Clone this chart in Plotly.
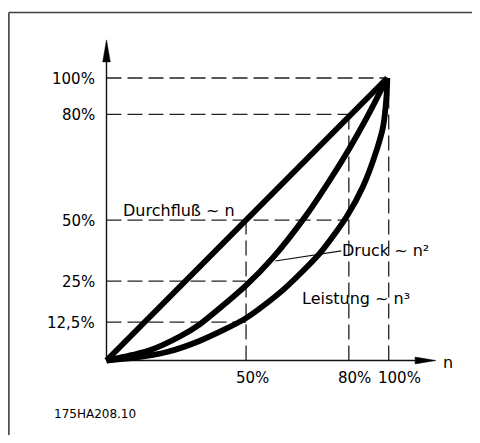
import plotly.graph_objects as go

# ---- data (schematic drawing units, 0..100 on both axes) ----
flow_x = [0, 100]
flow_y = [0, 100]

pressure_x = [0, 9.4, 15.4, 26.1, 33.2, 49.6, 59.2, 71.2, 79.5, 86.3, 92.6, 97.3, 100]
pressure_y = [0, 2.0, 3.6, 8.5, 12.8, 26.5, 36.3, 51.5, 63.8, 74.7, 85.8, 94.8, 100]

power_x = [0, 9.4, 21.5, 33.3, 49.7, 62.9, 76.1, 85.5, 91.3, 96.2, 98.5, 99.8, 100]
power_y = [0, 0.9, 3.0, 7.0, 15.0, 25.0, 38.1, 50.9, 61.5, 74.5, 82.8, 94.7, 100]

x_tick_pos = [49.7, 86.3, 100.5]
x_tick_text = ["50%", "80%", "100%"]
y_tick_pos = [13.6, 28.1, 49.7, 87.1, 100]
y_tick_text = ["12,5%", "25%", "50%", "80%", "100%"]
# horizontal guide ends at this x, vertical guide ends at this y
h_guide_end = [49.7, 49.7, 86.3, 86.3, 100]
v_guide_end = [49.7, 87.1, 100]

curve_labels = ["Durchfluß ~ n", "Druck ~ n²", "Leistung ~ n³"]
drawing_code = "175HA208.10"

# ---- axis geometry (drawing units; page body adds an 8px offset) ----
W, H = 464, 427
PX_X, PX_Y = 2.808, 2.825
X_MIN = -35.08
X_MAX = X_MIN + W / PX_X
Y_MAX = 124.78
Y_MIN = Y_MAX - H / PX_Y
Y_ARROW_TIP, Y_ARROW_LEN, Y_ARROW_HALF = 113.5, 7.8, 1.35
X_ARROW_TIP, X_ARROW_LEN, X_ARROW_HALF = 117.3, 7.4, 1.2

FONT = "DejaVu Sans"
fig = go.Figure()

DASH = "15px,6px"
for yv, xe in zip(y_tick_pos, h_guide_end):
    fig.add_trace(go.Scatter(x=[0, xe], y=[yv, yv], mode="lines",
                             line=dict(color="#222", width=1.3, dash=DASH),
                             hoverinfo="skip", showlegend=False))
for xv, ye in zip(x_tick_pos, v_guide_end):
    fig.add_trace(go.Scatter(x=[xv, xv], y=[0, ye], mode="lines",
                             line=dict(color="#222", width=1.3, dash=DASH),
                             hoverinfo="skip", showlegend=False))

# axes
fig.add_trace(go.Scatter(x=[0, 0], y=[0, Y_ARROW_TIP - Y_ARROW_LEN], mode="lines",
                         line=dict(color="#111", width=1.4), showlegend=False, hoverinfo="skip"))
fig.add_trace(go.Scatter(x=[0, X_ARROW_TIP - X_ARROW_LEN], y=[0, 0], mode="lines",
                         line=dict(color="#111", width=1.4), showlegend=False, hoverinfo="skip"))
fig.add_trace(go.Scatter(x=[-Y_ARROW_HALF, 0, Y_ARROW_HALF, -Y_ARROW_HALF],
                         y=[Y_ARROW_TIP - Y_ARROW_LEN, Y_ARROW_TIP, Y_ARROW_TIP - Y_ARROW_LEN, Y_ARROW_TIP - Y_ARROW_LEN],
                         mode="lines", fill="toself", fillcolor="#000",
                         line=dict(color="#000", width=0.5), showlegend=False, hoverinfo="skip"))
fig.add_trace(go.Scatter(x=[X_ARROW_TIP - X_ARROW_LEN, X_ARROW_TIP, X_ARROW_TIP - X_ARROW_LEN, X_ARROW_TIP - X_ARROW_LEN],
                         y=[-X_ARROW_HALF, 0, X_ARROW_HALF, -X_ARROW_HALF],
                         mode="lines", fill="toself", fillcolor="#000",
                         line=dict(color="#000", width=0.5), showlegend=False, hoverinfo="skip"))

# leader line for pressure label
fig.add_trace(go.Scatter(x=[60.1, 83.6], y=[35.2, 38.8], mode="lines",
                         line=dict(color="#111", width=1.1), showlegend=False, hoverinfo="skip"))

# curves
for xs, ys in [(flow_x, flow_y), (pressure_x, pressure_y), (power_x, power_y)]:
    fig.add_trace(go.Scatter(x=xs, y=ys, mode="lines",
                             line=dict(color="#000", width=5.8, shape="spline", smoothing=0.7),
                             showlegend=False, hoverinfo="skip"))

ann = []
for yv, t in zip(y_tick_pos, y_tick_text):
    ann.append(dict(x=0, y=yv, text=t, xanchor="right", yanchor="middle", xshift=-10, yshift=-1,
                    showarrow=False, font=dict(family=FONT, size=15, color="#000")))
for xv, t in zip(x_tick_pos, x_tick_text):
    ann.append(dict(x=xv, y=0, text=t, xanchor="left", yanchor="middle", xshift=-12.5, yshift=-17,
                    showarrow=False, font=dict(family=FONT, size=15, color="#000")))
ann.append(dict(x=X_ARROW_TIP, y=0, text="n", xanchor="left", yanchor="middle", xshift=5, yshift=-2,
                showarrow=False, font=dict(family=FONT, size=16, color="#000")))
ann.append(dict(x=5.06, y=53.0, text=curve_labels[0], xanchor="left", yanchor="middle",
                showarrow=False, font=dict(family=FONT, size=16, color="#000")))
ann.append(dict(x=83.3, y=38.9, text=curve_labels[1], xanchor="left", yanchor="middle",
                showarrow=False, font=dict(family=FONT, size=16, color="#000")))
ann.append(dict(x=68.8, y=22.1, text=curve_labels[2], xanchor="left", yanchor="middle",
                showarrow=False, font=dict(family=FONT, size=16, color="#000")))
ann.append(dict(x=-19.4, y=-18.9, text=drawing_code, xanchor="left", yanchor="middle",
                showarrow=False, font=dict(family=FONT, size=12, color="#000")))

frame_line = dict(color="#404040", width=1.6)
fig.update_layout(
    width=W, height=H,
    margin=dict(l=0, r=0, t=0, b=0, pad=0),
    paper_bgcolor="white", plot_bgcolor="white",
    xaxis=dict(range=[X_MIN, X_MAX], visible=False, fixedrange=True),
    yaxis=dict(range=[Y_MIN, Y_MAX], visible=False, fixedrange=True),
    annotations=ann,
    shapes=[
        dict(type="line", xref="paper", yref="paper", x0=0.9 / W, x1=1.0,
             y0=1 - 4.5 / H, y1=1 - 4.5 / H, line=frame_line, layer="above"),
        dict(type="line", xref="paper", yref="paper", x0=0.9 / W, x1=0.9 / W,
             y0=0.0, y1=1 - 4.5 / H, line=frame_line, layer="above"),
    ],
)

fig.write_html("out.html", config={"displayModeBar": False})
